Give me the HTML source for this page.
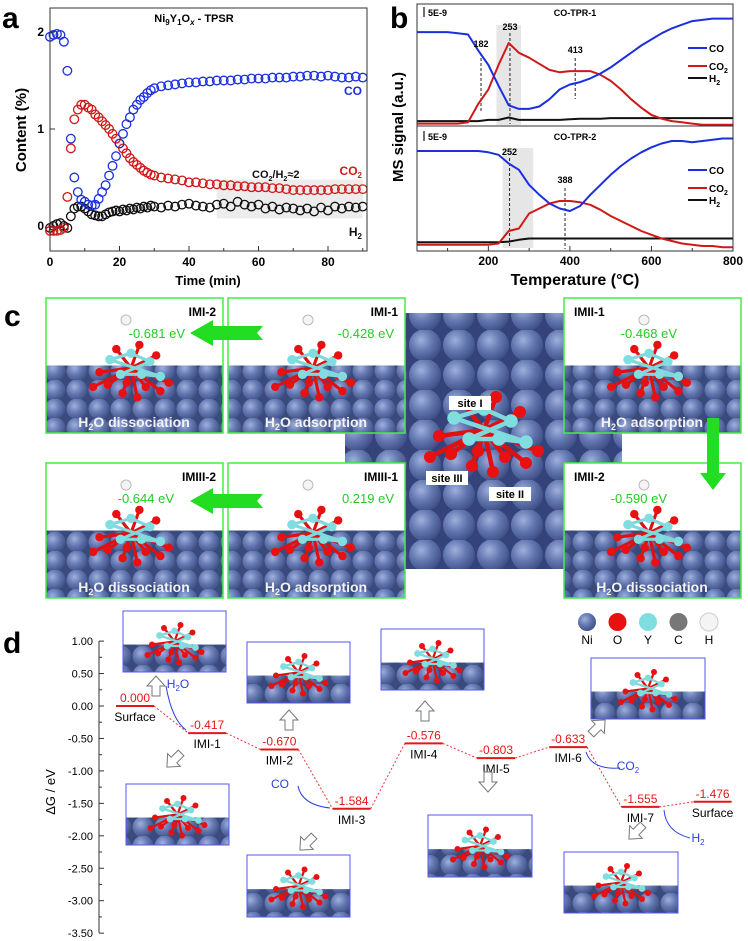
<!DOCTYPE html>
<html><head><meta charset="utf-8"><style>
html,body{margin:0;padding:0;background:#fff;}
svg{display:block;font-family:"Liberation Sans",Arial,sans-serif;}
</style></head><body>
<svg id="fig" width="748" height="941" viewBox="0 0 748 941" xmlns="http://www.w3.org/2000/svg">
<defs>
<radialGradient id="ni" cx="0.38" cy="0.35" r="0.7">
<stop offset="0" stop-color="#9fb0dc"/><stop offset="0.5" stop-color="#6377b0"/><stop offset="1" stop-color="#3c4d82"/>
</radialGradient>
<pattern id="spheres" width="22" height="19" patternUnits="userSpaceOnUse">
<rect width="22" height="19" fill="#3a4a7c"/>
<circle cx="11" cy="10" r="10.5" fill="url(#ni)"/>
</pattern>
<pattern id="spheres2" width="34" height="30" patternUnits="userSpaceOnUse">
<rect width="34" height="30" fill="#34447a"/>
<circle cx="17" cy="15" r="16" fill="url(#ni)"/>
</pattern>
</defs>
<g id="panelA"></g>
<g id="panelB"></g>
<g id="panelC"></g>
<g id="panelD"></g>
</svg>
<script>
// ---------- Panel a data ----------
const aTimes = [0,1,2,3,4,5,6,7,8,9,10,11,12,13,14,15,16,17,18,19,20,21,22,23,24,25,26,27,28,29,30,32,34,36,38,40,42,44,46,48,50,52,54,56,58,60,62,64,66,68,70,72,74,76,78,80,82,84,86,88,90];
const aCO  = [1.95,1.97,1.98,1.97,1.9,1.6,0.9,0.5,0.35,0.27,0.25,0.22,0.21,0.22,0.28,0.35,0.42,0.52,0.62,0.72,0.85,0.95,1.05,1.12,1.2,1.25,1.3,1.33,1.37,1.4,1.42,1.44,1.45,1.46,1.47,1.48,1.48,1.49,1.49,1.5,1.5,1.5,1.51,1.51,1.52,1.52,1.52,1.53,1.53,1.53,1.54,1.54,1.55,1.55,1.54,1.55,1.54,1.53,1.53,1.54,1.53];
const aCO2 = [-0.05,-0.05,-0.05,-0.04,-0.02,0.3,0.8,1.1,1.2,1.25,1.25,1.22,1.2,1.15,1.12,1.08,1.04,1.0,0.95,0.9,0.85,0.8,0.75,0.7,0.66,0.63,0.6,0.57,0.55,0.53,0.52,0.5,0.49,0.48,0.47,0.45,0.45,0.44,0.43,0.43,0.42,0.42,0.41,0.41,0.4,0.4,0.4,0.39,0.39,0.38,0.37,0.37,0.37,0.37,0.37,0.37,0.38,0.38,0.38,0.38,0.38];
const aH2  = [-0.02,0,0.02,0.03,0,-0.02,0.1,0.18,0.2,0.2,0.18,0.15,0.12,0.11,0.1,0.1,0.12,0.14,0.15,0.16,0.15,0.17,0.16,0.18,0.17,0.19,0.18,0.2,0.19,0.21,0.2,0.19,0.21,0.2,0.22,0.23,0.21,0.2,0.19,0.22,0.23,0.2,0.25,0.22,0.2,0.22,0.18,0.2,0.17,0.19,0.18,0.16,0.18,0.15,0.19,0.16,0.2,0.18,0.2,0.19,0.2];
const aXTicks = [0,20,40,60,80];
const aYTicks = [0,1,2];
// ---------- Panel b data ----------
const bTemps = [25,50,75,100,125,150,175,200,225,250,275,300,325,350,375,400,425,450,475,500,525,550,575,600,625,650,675,700,725,750,775,800];
const b1CO  = [.77,.77,.77,.77,.76,.75,.62,.50,.33,.17,.14,.14,.16,.22,.30,.34,.36,.39,.43,.48,.54,.60,.66,.71,.76,.80,.83,.86,.87,.88,.88,.88];
const b1CO2 = [.02,.02,.02,.02,.02,.03,.18,.30,.50,.68,.60,.56,.51,.46,.44,.45,.45,.45,.42,.37,.30,.22,.15,.09,.06,.04,.03,.02,.01,.01,.01,.01];
const b1H2  = [.04,.04,.04,.04,.04,.04,.04,.05,.05,.07,.05,.05,.05,.05,.05,.055,.06,.06,.06,.065,.065,.065,.065,.065,.065,.065,.065,.065,.065,.065,.065,.065];
const b2CO  = [.80,.80,.80,.80,.80,.80,.80,.79,.77,.70,.65,.53,.45,.38,.34,.32,.36,.45,.53,.61,.68,.74,.79,.83,.86,.88,.88,.87,.88,.89,.90,.90];
const b2CO2 = [.05,.05,.05,.05,.05,.05,.05,.05,.06,.16,.18,.30,.34,.38,.40,.40,.39,.37,.33,.28,.24,.20,.16,.13,.10,.08,.06,.05,.04,.04,.03,.03];
const b2H2  = [.07,.07,.07,.07,.07,.07,.07,.07,.07,.075,.09,.10,.10,.10,.10,.10,.10,.10,.10,.10,.10,.10,.10,.10,.10,.10,.10,.10,.10,.10,.10,.10];
const bXTicks = [200,400,600,800];
// ---------- Panel d data ----------
const dNames  = ["Surface","IMI-1","IMI-2","IMI-3","IMI-4","IMI-5","IMI-6","IMI-7","Surface"];
const dEnergy = [0.000,-0.417,-0.670,-1.584,-0.576,-0.803,-0.633,-1.555,-1.476];
const dLinks  = [[0,1],[1,2],[2,3],[3,4],[4,5],[5,6],[6,7],[7,8]];
const dYTicks = [1.00,0.50,0.00,-0.50,-1.00,-1.50,-2.00,-2.50,-3.00,-3.50];

const NS="http://www.w3.org/2000/svg";
function mk(parent,tag,attrs,text){const e=document.createElementNS(NS,tag);for(const k in attrs)e.setAttribute(k,attrs[k]);if(text!==undefined)e.textContent=text;parent.appendChild(e);return e;}

// ================= PANEL A =================
(function(){
const g=document.getElementById('panelA');
const X=t=>50+t*3.475, Y=v=>226-v*97;
let t=mk(g,'text',{x:2,y:28,'font-size':30,'font-weight':'bold'},'a');


let band=mk(g,'rect',{x:X(48),y:Y(0.48),width:X(90)-X(48),height:Y(0.08)-Y(0.48),fill:'#ececec'});


const series=[[aH2,'#111'],[aCO2,'#d01818'],[aCO,'#1a2fe0']];
series.forEach(([arr,c],si)=>{
  arr.forEach((v,i)=>{
    const p=mk(g,'circle',{cx:X(aTimes[i]),cy:Y(v),r:4.3,fill:'none',stroke:c,'stroke-width':1.3});
    
    
  });
});
let ax=mk(g,'rect',{x:50,y:8,width:317,height:243,fill:'none',stroke:'#333','stroke-width':1});


aXTicks.forEach(v=>{
  mk(g,'line',{x1:X(v),x2:X(v),y1:251,y2:246,stroke:'#333'});
  let l=mk(g,'text',{x:X(v),y:266,'font-size':12,'font-weight':'bold','text-anchor':'middle'},v);
  
  
});
[10,30,50,70,90].forEach(v=>mk(g,'line',{x1:X(v),x2:X(v),y1:251,y2:248,stroke:'#333'}));
aYTicks.forEach(v=>{
  mk(g,'line',{x1:50,x2:55,y1:Y(v),y2:Y(v),stroke:'#333'});
  let l=mk(g,'text',{x:44,y:Y(v)+4,'font-size':12,'font-weight':'bold','text-anchor':'end'},v);
  
  
});
let xt=mk(g,'text',{x:208,y:285,'font-size':13,'font-weight':'bold','text-anchor':'middle'},'Time (min)');


let yt=mk(g,'text',{x:0,y:0,'font-size':15,'font-weight':'bold','text-anchor':'middle',transform:'translate(26,130) rotate(-90)'},'Content (%)');


let tt=mk(g,'text',{x:194,y:22,'font-size':11,'font-weight':'bold','text-anchor':'middle'});
tt.innerHTML='Ni<tspan font-size="8" dy="3">9</tspan><tspan dy="-3">Y</tspan><tspan font-size="8" dy="3">1</tspan><tspan dy="-3">O</tspan><tspan font-size="8" dy="3" font-style="italic">x</tspan><tspan dy="-3"> - TPSR</tspan>';


let l1=mk(g,'text',{x:362,y:95,'font-size':12,'font-weight':'bold',fill:'#1a2fe0','text-anchor':'end'},'CO');


let l2=mk(g,'text',{x:362,y:175,'font-size':12,'font-weight':'bold',fill:'#d01818','text-anchor':'end'});
l2.innerHTML='CO<tspan font-size="8" dy="3">2</tspan>';


let l3=mk(g,'text',{x:362,y:236,'font-size':12,'font-weight':'bold',fill:'#111','text-anchor':'end'});
l3.innerHTML='H<tspan font-size="8" dy="3">2</tspan>';


let l4=mk(g,'text',{x:252,y:178,'font-size':11,'font-weight':'bold',fill:'#111'});
l4.innerHTML='CO<tspan font-size="7" dy="3">2</tspan><tspan dy="-3">/H</tspan><tspan font-size="7" dy="3">2</tspan><tspan dy="-3">≈2</tspan>';


})();

// ================= PANEL B =================
(function(){
const g=document.getElementById('panelB');
const X=T=>417+(T-25)*(733-417)/775;
const Y1=v=>126-v*122, Y2=v=>251-v*125;
let t=mk(g,'text',{x:390,y:28,'font-size':30,'font-weight':'bold'},'b');


let s1=mk(g,'rect',{x:X(220),y:25,width:X(280)-X(220),height:100,fill:'#e6e6e6'});


let s2=mk(g,'rect',{x:X(235),y:148,width:X(310)-X(235),height:100,fill:'#e6e6e6'});


function line(arr,Y,c,name){
  const d=arr.map((v,i)=>(i?'L':'M')+X(bTemps[i]).toFixed(1)+','+Y(v).toFixed(1)).join('');
  const p=mk(g,'path',{d:d,fill:'none',stroke:c,'stroke-width':2,'stroke-linejoin':'round'});
  
  
}
function dash(T,y1,y2){mk(g,'line',{x1:X(T),x2:X(T),y1:y1,y2:y2,stroke:'#222','stroke-dasharray':'3,2','stroke-width':1});}
dash(182,53,112);dash(253,33,124);dash(413,58,99);dash(252,158,248);dash(388,188,249);
line(b1H2,Y1,'#111','tpr1-h2-line');line(b1CO2,Y1,'#d01818','tpr1-co2-line');line(b1CO,Y1,'#1a2fe0','tpr1-co-line');
line(b2H2,Y2,'#111','tpr2-h2-line');line(b2CO2,Y2,'#d01818','tpr2-co2-line');line(b2CO,Y2,'#1a2fe0','tpr2-co-line');
let f=mk(g,'rect',{x:417,y:4,width:316,height:247,fill:'none',stroke:'#333'});


mk(g,'line',{x1:417,x2:733,y1:126,y2:126,stroke:'#333'});
bXTicks.forEach(v=>{
  mk(g,'line',{x1:X(v),x2:X(v),y1:251,y2:246,stroke:'#333'});
  let l=mk(g,'text',{x:X(v),y:265,'font-size':12,'font-weight':'bold','text-anchor':'middle'},v);
  
  
});
[100,300,500,700].forEach(v=>mk(g,'line',{x1:X(v),x2:X(v),y1:251,y2:248,stroke:'#333'}));
let xt=mk(g,'text',{x:575,y:285,'font-size':16,'font-weight':'bold','text-anchor':'middle'},'Temperature (°C)');


let yt=mk(g,'text',{x:0,y:0,'font-size':15,'font-weight':'bold','text-anchor':'middle',transform:'translate(403,127) rotate(-90)'},'MS signal (a.u.)');


[[16,'CO-TPR-1'],[140,'CO-TPR-2']].forEach(([y,s],i)=>{
  let a=mk(g,'text',{x:575,y:y,'font-size':9,'font-weight':'bold','text-anchor':'middle'},s);
  
  
  mk(g,'line',{x1:424,x2:424,y1:y-9,y2:y+1,stroke:'#111','stroke-width':1.2});
  let sc=mk(g,'text',{x:428,y:y,'font-size':9,'font-weight':'bold'},'5E-9');
  
  
});
[[182,50],[253,33],[413,56],[252,158],[388,186]].forEach(([T,y])=>{
  let a=mk(g,'text',{x:X(T),y:y-3,'font-size':9,'font-weight':'bold','text-anchor':'middle'},T);
  
  
});
[[48,'#1a2fe0'],[66,'#d01818'],[78,'#111']].forEach(([y,c],k)=>{
  [0,122].forEach(off=>{
    mk(g,'line',{x1:688,x2:707,y1:y+off,y2:y+off,stroke:c,'stroke-width':2});
    let tx=mk(g,'text',{x:709,y:y+off+4,'font-size':10,'font-weight':'bold'});
    tx.innerHTML=['CO','CO<tspan font-size="7" dy="3">2</tspan>','H<tspan font-size="7" dy="3">2</tspan>'][k];
    
    
  });
});
})();

// ================= molecule drawing helper =================
function molecule(g,cx,cy,s){
  const atomsY=[[-20,-8],[0,-14],[18,-6],[-10,6],[10,6],[28,8]];
  const atomsO=[[-30,4],[-14,-18],[8,-22],[24,-12],[-22,16],[-4,14],[14,18],[36,14],[-8,24],[6,28],[-36,18],[28,22]];
  atomsO.forEach(a=>{mk(g,'line',{x1:cx,y1:cy,x2:cx+a[0]*s,y2:cy+a[1]*s,stroke:'#e01010','stroke-width':3*s});});
  atomsY.forEach((a,i)=>{const b=atomsY[(i+1)%atomsY.length];mk(g,'line',{x1:cx+a[0]*s,y1:cy+a[1]*s,x2:cx+b[0]*s,y2:cy+b[1]*s,stroke:'#7fd8dc','stroke-width':3*s});});
  atomsO.forEach(a=>mk(g,'circle',{cx:cx+a[0]*s,cy:cy+a[1]*s,r:4*s,fill:'#e81010'}));
  atomsY.forEach(a=>mk(g,'circle',{cx:cx+a[0]*s,cy:cy+a[1]*s,r:4.5*s,fill:'#80dde0'}));
}
function slab(g,x,y,w,h,frac,stroke,name){
  const box=mk(g,'g',{});
  
  
  mk(box,'rect',{x:x,y:y,width:w,height:h,fill:'#fff'});
  mk(box,'rect',{x:x,y:y+h*frac,width:w,height:h*(1-frac),fill:'url(#spheres)'});
  return box;
}

// ================= PANEL C =================
(function(){
const g=document.getElementById('panelC');
let t=mk(g,'text',{x:4,y:326,'font-size':30,'font-weight':'bold'},'c');


let ctr=mk(g,'rect',{x:345,y:313,width:277,height:256,fill:'url(#spheres2)'});


molecule(g,484,430,1.5);
[['site I',470,407],['site III',447,482],['site II',510,498]].forEach(([s,x,y])=>{
  mk(g,'rect',{x:x-21,y:y-11,width:42,height:14,fill:'#fff'});
  let l=mk(g,'text',{x:x,y:y,'font-size':11,'font-weight':'bold','text-anchor':'middle'},s);
  
  
});
const boxes=[
 [46,298,'IMI-2','-0.681 eV','dissociation',185],
 [228,298,'IMI-1','-0.428 eV','adsorption',394],
 [564,298,'IMII-1','-0.468 eV','adsorption',677],
 [46,463,'IMIII-2','-0.644 eV','dissociation',174],
 [228,463,'IMIII-1','0.219 eV','adsorption',394],
 [564,463,'IMII-2','-0.590 eV','dissociation',667]];
boxes.forEach(([x,y,n,e,k,ex])=>{
  const b=slab(g,x,y,177,135,0.5,'#3f3','state-box-'+n.toLowerCase());
  molecule(b,x+85,y+70,1.05);
  mk(b,'circle',{cx:x+80,cy:y+22,r:5,fill:'#f4f4f4',stroke:'#bbb'});
  mk(b,'rect',{x:x,y:y,width:177,height:135,fill:'none',stroke:'#44ee44','stroke-width':1.5});
  let nl=mk(b,'text',{x:x+(n.startsWith('IMII-')?10:170),y:y+18,'font-size':12,'font-weight':'bold','text-anchor':n.startsWith('IMII-')?'start':'end'},n);
  
  
  let el=mk(b,'text',{x:ex,y:y+40,'font-size':13,fill:'#22cc22','text-anchor':'end'},e);
  
  
  let kl=mk(b,'text',{x:x+88,y:y+129,'font-size':14,'font-weight':'bold',fill:'#f2f2f2','text-anchor':'middle'});
  kl.innerHTML='H<tspan font-size="9" dy="3">2</tspan><tspan dy="-3">O '+k+'</tspan>';
  
  
});
[[263,333],[263,501]].forEach(([x,y],i)=>{
  let a=mk(g,'polygon',{points:`${x},${y-7} ${x-50},${y-7} ${x-50},${y-13} ${x-73},${y} ${x-50},${y+13} ${x-50},${y+7} ${x},${y+7} ${x-6},${y}`,fill:'#22dd22'});
  
  
});
let va=mk(g,'polygon',{points:'707,418 719,418 719,473 726,473 713,490 700,473 707,473',fill:'#22dd22'});


})();

// ================= PANEL D =================
(function(){
const g=document.getElementById('panelD');
const Y=v=>706-v*64.9;
const LX=i=>116+i*72.2, LW=38;
let t=mk(g,'text',{x:3,y:653,'font-size':30,'font-weight':'bold'},'d');


mk(g,'line',{x1:99,x2:99,y1:641,y2:933,stroke:'#333'});
dYTicks.forEach(v=>{
  mk(g,'line',{x1:99,x2:104,y1:Y(v),y2:Y(v),stroke:'#333'});
  mk(g,'line',{x1:99,x2:102,y1:Y(v-0.25),y2:Y(v-0.25),stroke:'#333'});
  let l=mk(g,'text',{x:93,y:Y(v)+4,'font-size':11,'text-anchor':'end'},v.toFixed(2));
  
  
});
let yt=mk(g,'text',{x:0,y:0,'font-size':13,'text-anchor':'middle',transform:'translate(55,792) rotate(-90)'},'ΔG / eV');


[[123,611,103,61],[247,642,103,61],[381,629,103,61],[591,658,114,61],[126,784,103,61],[247,855,103,62],[428,815,104,62],[564,852,114,61]].forEach(([x,y,w,h],i)=>{
  const b=slab(g,x,y,w,h,0.55,'#55f','structure-image-'+(i+1));
  molecule(b,x+w/2,y+h*0.5,0.75);
  mk(b,'rect',{x:x,y:y,width:w,height:h,fill:'none',stroke:'#5555ee','stroke-width':1});
});
dLinks.forEach(([a,b])=>{
  let l=mk(g,'line',{x1:LX(a)+LW,y1:Y(dEnergy[a]),x2:LX(b),y2:Y(dEnergy[b]),stroke:'#e33','stroke-width':1,'stroke-dasharray':'2,2'});
  
  
});
dEnergy.forEach((v,i)=>{
  let l=mk(g,'line',{x1:LX(i),x2:LX(i)+LW,y1:Y(v),y2:Y(v),stroke:'#e01818','stroke-width':2});
  
  
  let vl=mk(g,'text',{x:LX(i)+LW/2,y:Y(v)-4,'font-size':12,fill:'#e01818','text-anchor':'middle'},v.toFixed(3));
  
  
  let nl=mk(g,'text',{x:LX(i)+LW/2,y:Y(v)+15,'font-size':12,'text-anchor':'middle'},dNames[i]);
  
  
});
[[178,688,'H<tspan font-size="8" dy="3">2</tspan><tspan dy="-3">O</tspan>'],[280,788,'CO'],[628,770,'CO<tspan font-size="8" dy="3">2</tspan>'],[698,842,'H<tspan font-size="8" dy="3">2</tspan>']].forEach(([x,y,s])=>{
  let l=mk(g,'text',{x:x,y:y,'font-size':12,fill:'#2b3fe0','text-anchor':'middle'});
  l.innerHTML=s;
  
  
});
[['M166,686 Q172,720 186,730'],['M298,786 Q302,805 330,808'],['M586,752 Q592,770 620,768'],['M664,810 Q666,832 690,838']].forEach(([d])=>{
  let p=mk(g,'path',{d:d,fill:'none',stroke:'#2b3fe0','stroke-width':1});
  
  
});
[[156,686,-90],[289,720,-90],[425,711,-90],[488,782,90],[598,727,-45],[174,760,135],[307,843,135],[636,832,135]].forEach(([x,y,r])=>{
  let a=mk(g,'polygon',{points:'-4,10 4,10 4,0 9,0 0,-10 -9,0 -4,0',fill:'#fff',stroke:'#777','stroke-width':1,transform:`translate(${x},${y}) rotate(${r+90})`});
  
  
});
[['Ni','url(#ni)'],['O','#e81010'],['Y','#80dde0'],['C','#777'],['H','#f4f4f4']].forEach(([n,c],i)=>{
  const x=587+i*30.5;
  let a=mk(g,'circle',{cx:x,cy:622,r:9,fill:c,stroke:n==='H'?'#ccc':'none'});
  
  
  let l=mk(g,'text',{x:x,y:644,'font-size':12,'text-anchor':'middle'},n);
  
  
});
})();
</script>
</body></html>
